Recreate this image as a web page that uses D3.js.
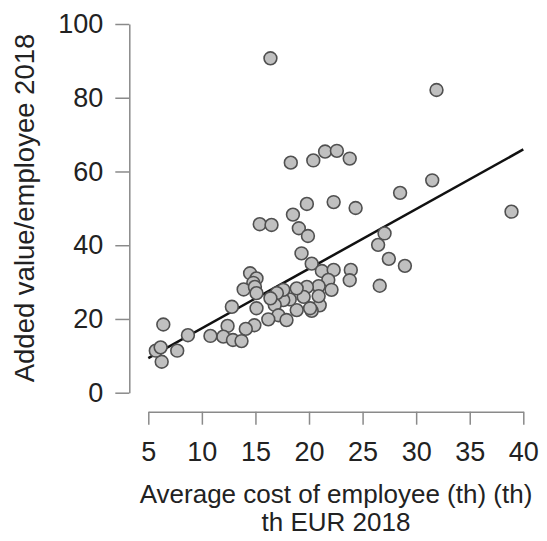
<!DOCTYPE html>
<html>
<head>
<meta charset="utf-8">
<script src="https://cdn.jsdelivr.net/npm/d3@7"></script>
<style>
  body { margin: 0; background: #fff; }
  text { font-family: "Liberation Sans", Arial, sans-serif; fill: #222; }
</style>
</head>
<body>
<div id="chart"></div>
<script>
// average cost of employee (th EUR 2018)
var costValues = [16.4, 31.9, 18.3, 20.4, 21.5, 22.6, 23.8, 19.8, 22.3, 24.35,
  18.5, 28.5, 31.5, 38.9, 15.4, 16.5, 19.05, 19.9, 19.3, 20.25,
  27.05, 26.45, 27.45, 28.95, 23.9, 23.8, 26.6, 21.2, 22.3, 21.8,
  22.1, 21.0, 20.25, 20.9, 20.9, 19.8, 19.5, 18.85, 18.85, 18.2,
  17.6, 17.6, 17.0, 16.8, 17.15, 16.2, 17.9, 15.1, 14.9, 14.1,
  14.5, 15.1, 14.8, 13.9, 14.95, 15.1, 12.8, 12.4, 12.0, 12.9,
  13.7, 10.8, 8.7, 7.7, 6.4, 6.25, 5.7, 6.15, 20.1, 16.4];
// added value per employee 2018
var addedValues = [90.7, 82.1, 62.4, 63.0, 65.4, 65.6, 63.5, 51.2, 51.7, 50.1,
  48.3, 54.2, 57.6, 49.1, 45.7, 45.5, 44.6, 42.5, 37.8, 35.0,
  43.2, 40.1, 36.3, 34.4, 33.3, 30.5, 29.0, 33.0, 33.3, 30.6,
  27.9, 23.7, 22.2, 28.9, 26.2, 28.7, 26.0, 28.3, 22.4, 25.3,
  25.1, 27.9, 27.0, 23.8, 21.0, 19.9, 19.7, 22.9, 18.3, 17.3,
  32.4, 31.0, 29.8, 28.0, 28.7, 27.0, 23.3, 18.1, 15.2, 14.3,
  14.0, 15.4, 15.6, 11.4, 18.5, 8.4, 11.4, 12.3, 22.9, 25.6];
// trend line: [intercept, slope]
var trendCoef = [1.3, 1.617];
var trendRange = [5, 40];
var xTicks = [5, 10, 15, 20, 25, 30, 35, 40];
var yTicks = [0, 20, 40, 60, 80, 100];
var xTitle = ['Average cost of employee (th) (th)', 'th EUR 2018'];
var yTitle = 'Added value/employee 2018';

var width = 547, height = 541;

var svg = d3.select('#chart').append('svg')
  .attr('width', width)
  .attr('height', height);

//scales fitted to the tick range of the axes
var x = d3.scaleLinear().domain([5, 40]).range([148.3, 523.3]);
var y = d3.scaleLinear().domain([0, 100]).range([392.7, 24]);

var points = costValues.map(function (d, i) { return { x: d, y: addedValues[i] }; });

//y axis
var yAxis = svg.append('g')
  .attr('transform', 'translate(129.3,0)')
  .call(d3.axisLeft(y).tickValues(yTicks).tickSize(14).tickPadding(12).tickSizeOuter(0));
//x axis
var xAxis = svg.append('g')
  .attr('transform', 'translate(0,411.7)')
  .call(d3.axisBottom(x).tickValues(xTicks).tickSize(13).tickPadding(17).tickSizeOuter(0));

[xAxis, yAxis].forEach(function (a) {
  a.select('.domain').attr('stroke', '#8a8a8a').attr('stroke-width', 1.5);
  a.selectAll('.tick line').attr('stroke', '#8a8a8a').attr('stroke-width', 1.5);
  a.selectAll('.tick text')
    .style('font-family', '"Liberation Sans", Arial, sans-serif')
    .style('font-size', '27px')
    .attr('fill', '#222');
});

//trend line
var trend = trendRange.map(function (v) { return { x: v, y: trendCoef[0] + trendCoef[1] * v }; });
svg.append('path')
  .datum(trend)
  .attr('d', d3.line().x(function (d) { return x(d.x); }).y(function (d) { return y(d.y); }))
  .attr('fill', 'none')
  .attr('stroke', '#111')
  .attr('stroke-width', 2.5);

//points
svg.append('g').selectAll('circle')
  .data(points)
  .enter().append('circle')
  .attr('cx', function (d) { return x(d.x); })
  .attr('cy', function (d) { return y(d.y); })
  .attr('r', 6.4)
  .attr('fill', '#c0c0c0')
  .attr('stroke', '#505050')
  .attr('stroke-width', 1.6);

//axis titles
svg.append('g').selectAll('text')
  .data(xTitle)
  .enter().append('text')
  .attr('x', 336)
  .attr('y', function (d, i) { return 503 + i * 28; })
  .attr('text-anchor', 'middle')
  .style('font-size', '26px')
  .text(function (d) { return d; });

svg.append('text')
  .attr('transform', 'translate(34,208) rotate(-90)')
  .attr('text-anchor', 'middle')
  .style('font-size', '27.5px')
  .text(yTitle);
</script>
</body>
</html>
